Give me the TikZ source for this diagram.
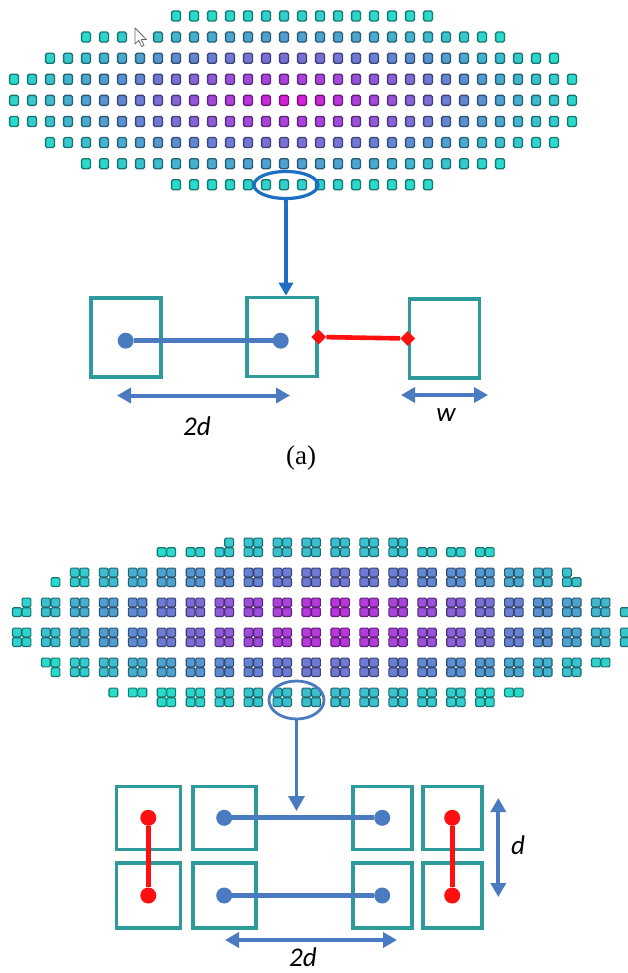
\documentclass[tikz,border=0pt]{standalone}
\usepackage{fontspec}
\setmainfont{Liberation Serif}
\newfontfamily\calfont{Carlito}
\usetikzlibrary{arrows.meta,shapes.geometric}
\definecolor{tealc}{HTML}{2E9A9C}
\definecolor{dimblue}{HTML}{4A7BC0}
\definecolor{arrblue}{HTML}{1C6FC2}
\definecolor{redc}{HTML}{FF1010}
\definecolor{sqf}{rgb}{0.2,0.8,0.8}
\newcommand\gridcol[1]{%
  \pgfmathsetmacro\tv{min(1,#1)}%
  \pgfmathsetmacro\cR{\tv<0.3 ? 0.86-0.24*\tv/0.3 : (\tv<0.62 ? 0.62-0.26*(\tv-0.3)/0.32 : 0.36-0.20*(\tv-0.62)/0.38)}%
  \pgfmathsetmacro\cG{\tv<0.3 ? 0.10+0.20*\tv/0.3 : (\tv<0.62 ? 0.30+0.25*(\tv-0.3)/0.32 : 0.55+0.31*(\tv-0.62)/0.38)}%
  \pgfmathsetmacro\cB{\tv<0.3 ? 0.86 : (\tv<0.62 ? 0.86-0.04*(\tv-0.3)/0.32 : 0.82-0.02*(\tv-0.62)/0.38)}%
  \definecolor{sqf}{rgb}{\cR,\cG,\cB}}
\tikzset{
  topsq/.style={draw=sqf!55!black, fill=sqf, line width=1.3pt, rounded corners=1.5pt},
  botsq/.style={draw=sqf!55!black, fill=sqf, line width=1.1pt, rounded corners=1.3pt},
  cell/.style={draw=tealc, line width=3.6pt, rectangle, inner sep=0pt},
  bdot/.style={circle, fill=dimblue, inner sep=0pt, minimum size=16pt},
  rdot/.style={circle, fill=redc, inner sep=0pt, minimum size=16pt},
  rdia/.style={diamond, fill=redc, inner sep=0pt, minimum width=15pt, minimum height=15pt},
  blink/.style={dimblue, line width=5pt},
  rlink/.style={redc, line width=4.6pt},
  dimarrow/.style={dimblue, line width=4pt, {Triangle[width=15pt,length=14pt]}-{Triangle[width=15pt,length=14pt]}},
  lbl/.style={font=\calfont\itshape\fontsize{27}{30}\selectfont, inner sep=0pt},
}
\newcommand\bsq[4]{%
  \pgfmathsetmacro\tq{sqrt(((#1-10.8)/11.5)^2+((#2-2.5)/2.9)^2)}%
  \gridcol{\tq}%
  \pgfmathsetmacro\xq{21.7+28.95*#1+4.8*(#3)}%
  \pgfmathsetmacro\yq{547.3+30*#2+4.8*(#4)}%
  \draw[botsq] (\xq-4.4,\yq-4.4) rectangle (\xq+4.4,\yq+4.4);}
\begin{document}
\begin{tikzpicture}[x=1pt,y=-1pt]
\fill[white] (0,0) rectangle (628,973);
\useasboundingbox (0,0) rectangle (628,973);
% ---------- top grid ----------
\foreach \rw/\ka/\kb in {1/9/23,2/4/27,3/2/30,4/0/31,5/0/31,6/0/31,7/2/30,8/4/27,9/9/23}{
  \foreach \k in {\ka,...,\kb}{
    \pgfmathsetmacro\tq{sqrt(((\k-15.5)/16)^2+((\rw-5)/4.2)^2)}
    \gridcol{\tq}
    \pgfmathsetmacro\xq{14+18*\k}
    \pgfmathsetmacro\yq{16+21.1*(\rw-1)}
    \pgfmathtruncatemacro\skipq{(\rw==2)*(\k==7)}
    \ifnum\skipq=0
      \draw[topsq] (\xq-4.4,\yq-5) rectangle (\xq+4.4,\yq+5);
    \fi
  }}
% cursor
\draw[fill=white, draw=black!60, line width=0.8pt, line join=round]
  (135,28) -- (135,44) -- (138.8,40.5) -- (141.5,46.5) -- (144,45.4) -- (141.3,39.6) -- (146.5,39.6) -- cycle;
% ---------- diagram (a) ----------
\node[draw=arrblue, line width=3.2pt, ellipse, minimum width=64pt, minimum height=27pt, inner sep=0pt] (e1) at (286,185) {};
\node[cell, minimum width=70pt, minimum height=79pt] (b1) at (126,337.5) {};
\node[cell, minimum width=70pt, minimum height=79pt] (b2) at (282,337) {};
\node[cell, minimum width=70pt, minimum height=79pt] (b3) at (444.5,338.5) {};
\draw[arrblue, line width=3.2pt, -{Triangle[width=14pt,length=13pt]}] (e1.south) -- (e1.south |- b2.north);
\node[bdot] (d1) at (125.7,340.7) {};
\node[bdot] (d2) at (280.7,340.7) {};
\draw[blink] (d1) -- (d2);
\node[rdia] (r1) at (b2.east |- 0,337) {};
\node[rdia] (r2) at (b3.west |- 0,338.5) {};
\draw[rlink] (r1) -- (r2);
\coordinate (a2dL) at (117,395.5);
\coordinate (a2dR) at (290,395.5);
\draw[dimarrow] (a2dL) -- (a2dR);
\node[lbl] (t2d) at (197,426) {2d};
\coordinate (awL) at (401,395);
\coordinate (awR) at (488,395);
\draw[dimarrow] (awL) -- (awR);
\node[lbl] (tw) at (446,415) {w};
\node[font=\fontsize{27}{30}\selectfont, inner sep=0pt] (capa) at (301,458) {(a)};
% ---------- bottom grid ----------
\foreach \i/\ja/\jb in {0/8/13,1/2/18,2/1/20,3/0/21,4/2/19,5/5/16}{
  \foreach \j in {\ja,...,\jb}{
    \foreach \qx/\qy in {-1/-1,1/-1,-1/1,1/1}{\bsq{\j}{\i}{\qx}{\qy}}}}
\foreach \j/\i/\qx/\qy in {5/0/-1/1,5/0/1/1,6/0/-1/1,6/0/1/1,7/0/1/-1,7/0/-1/1,7/0/1/1,
  14/0/-1/1,14/0/1/1,15/0/-1/1,15/0/1/1,16/0/-1/1,16/0/1/1,
  1/1/1/1,19/1/-1/-1,19/1/-1/1,19/1/1/1,
  0/2/1/-1,0/2/-1/1,0/2/1/1,21/2/-1/1,
  1/4/-1/-1,1/4/1/-1,1/4/1/1,20/4/-1/-1,20/4/1/-1,
  3/5/1/-1,4/5/-1/-1,4/5/1/-1,17/5/-1/-1,17/5/1/-1}{\bsq{\j}{\i}{\qx}{\qy}}
% ---------- diagram (b) ----------
\node[draw=dimblue, line width=2.8pt, ellipse, minimum width=55pt, minimum height=38pt, inner sep=0pt] (e2) at (296.5,700) {};
\node[cell, minimum width=64pt, minimum height=63pt] (c11) at (148.3,817.8) {};
\node[cell, minimum width=63pt, minimum height=63pt] (c12) at (224.2,817.8) {};
\node[cell, minimum width=59pt, minimum height=63pt] (c13) at (382.2,817.8) {};
\node[cell, minimum width=59pt, minimum height=63pt] (c14) at (452.2,817.8) {};
\node[cell, minimum width=64pt, minimum height=65pt] (c21) at (148.3,895.5) {};
\node[cell, minimum width=63pt, minimum height=65pt] (c22) at (224.2,895.5) {};
\node[cell, minimum width=59pt, minimum height=65pt] (c23) at (382.2,895.5) {};
\node[cell, minimum width=59pt, minimum height=65pt] (c24) at (452.2,895.5) {};
\coordinate (tipB) at (296.5,811);
\draw[dimblue, line width=3.5pt, -{Triangle[width=16pt,length=15pt]}] (e2.south) -- (tipB);
\node[rdot] (p11) at (c11.center) {};
\node[rdot] (p21) at (c21.center) {};
\draw[rlink] (p11) -- (p21);
\node[rdot] (p14) at (c14.center) {};
\node[rdot] (p24) at (c24.center) {};
\draw[rlink] (p14) -- (p24);
\node[bdot] (q12) at (c12.center) {};
\node[bdot] (q13) at (c13.center) {};
\draw[blink] (q12) -- (q13);
\node[bdot] (q22) at (c22.center) {};
\node[bdot] (q23) at (c23.center) {};
\draw[blink] (q22) -- (q23);
\coordinate (adT) at (498.3,798);
\coordinate (adB) at (498.3,897);
\draw[dimarrow] (adT) -- (adB);
\node[lbl] (td) at (518,845) {d};
\coordinate (b2dL) at (225,940);
\coordinate (b2dR) at (397,940);
\draw[dimarrow] (b2dL) -- (b2dR);
\node[lbl] (tb2d) at (303,957) {2d};
\end{tikzpicture}
\end{document}
